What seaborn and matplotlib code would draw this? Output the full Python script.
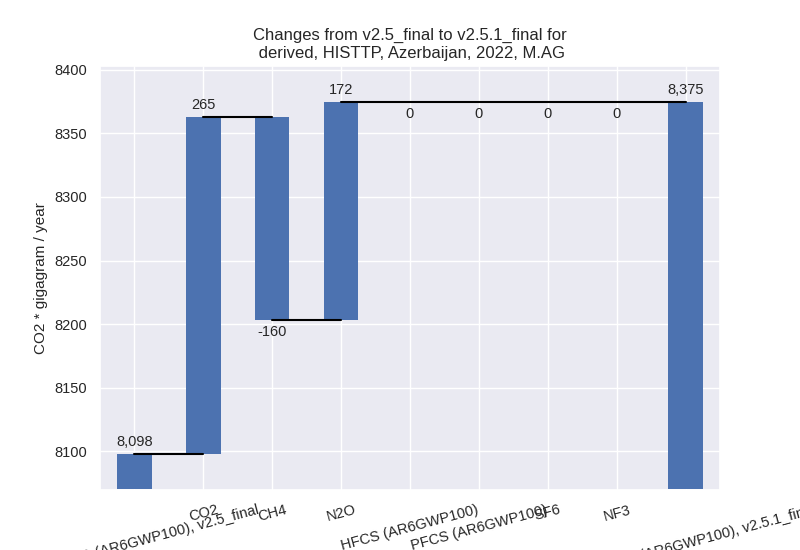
import matplotlib
matplotlib.use('Agg')
import matplotlib.pyplot as plt
import seaborn as sns

labels = ['KYOTOGHG (AR6GWP100), v2.5_final', 'CO2', 'CH4', 'N2O', 'HFCS (AR6GWP100)',
          'PFCS (AR6GWP100)', 'SF6', 'NF3', 'KYOTOGHG (AR6GWP100), v2.5.1_final']
start_value = 8098
changes = [265, -160, 172, 0, 0, 0, 0]
end_value = 8375

sns.set_theme(style='darkgrid')
plt.rcParams['font.family'] = ['Liberation Sans', 'DejaVu Sans']
fig, ax = plt.subplots(figsize=(8, 5.5), dpi=100)
color = sns.color_palette()[0]
ymin = 8070

# running totals
totals = [start_value]
for c in changes:
    totals.append(totals[-1] + c)

bottoms = [ymin] + [min(totals[i], totals[i + 1]) for i in range(len(changes))] + [ymin]
heights = [start_value - ymin] + [abs(c) for c in changes] + [end_value - ymin]
ax.bar(range(len(labels)), heights, bottom=bottoms, width=0.5, color=color, linewidth=0)

# connector lines
for i in range(len(labels) - 1):
    ax.plot([i, i + 1], [totals[min(i, len(totals) - 1)]] * 2, color='black', lw=1.5)

values = [start_value] + changes + [end_value]
tops = [start_value] + totals[1:] + [end_value]
for i, v in enumerate(values):
    txt = f'{v:,}'
    if v > 0:
        ax.text(i, tops[i] + 4, txt, ha='center', va='bottom', fontsize=10.5)
    else:
        ax.text(i, tops[i] - 4, txt, ha='center', va='top', fontsize=10.5)

ax.set_xticks(range(len(labels)))
ax.set_xticklabels(labels, rotation=15, fontsize=10.5)
ax.tick_params(axis='y', labelsize=10.5)
ax.set_xlim(-0.5, 8.5)
ax.set_ylim(ymin, 8403)
ax.set_ylabel('CO2 * gigagram / year', fontsize=11)
ax.set_title('Changes from v2.5_final to v2.5.1_final for\n derived, HISTTP, Azerbaijan, 2022, M.AG', fontsize=12)
fig.subplots_adjust(left=0.125, right=0.9, top=0.88, bottom=0.11)
fig.savefig('out.png')
